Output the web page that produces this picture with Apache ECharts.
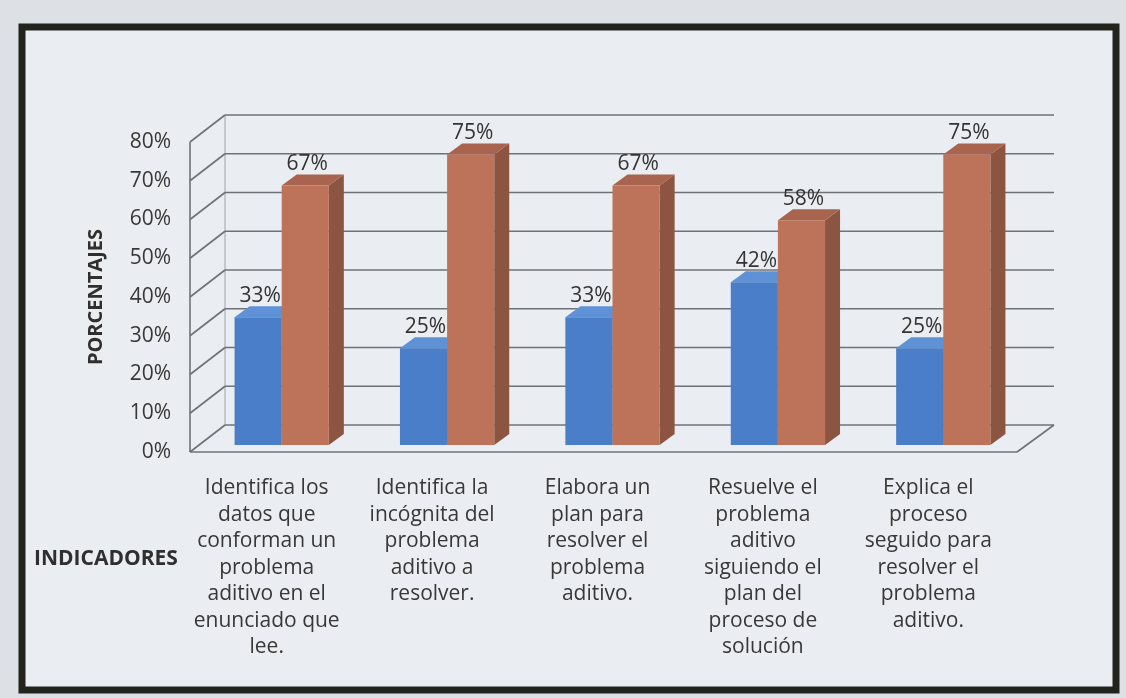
<!DOCTYPE html>
<html><head><meta charset="utf-8">
<script src="https://cdn.jsdelivr.net/npm/echarts@6/dist/echarts.min.js"></script>
<style>html,body{margin:0;padding:0;background:#dde1e5;}#c{width:1126px;height:698px;}</style>
</head><body><div id="c"></div>
<script>
const categories = [
  'Identifica los\ndatos que\nconforman un\nproblema\naditivo en el\nenunciado que\nlee.',
  'Identifica la\nincógnita del\nproblema\naditivo a\nresolver.',
  'Elabora un\nplan para\nresolver el\nproblema\naditivo.',
  'Resuelve el\nproblema\naditivo\nsiguiendo el\nplan del\nproceso de\nsolución',
  'Explica el\nproceso\nseguido para\nresolver el\nproblema\naditivo.'
];
const seriesA = [0.33, 0.25, 0.33, 0.42, 0.25];
const seriesB = [0.67, 0.75, 0.67, 0.58, 0.75];
const yTicks = [0, 0.1, 0.2, 0.3, 0.4, 0.5, 0.6, 0.7, 0.8];

const FONT = '"Open Sans", sans-serif';
const GRID_COLOR = '#6e7378';
const DX = 15, DY = 11;

const chart = echarts.init(document.getElementById('c'), null, {renderer:'canvas'});

function wallRender(params, api) {
  const cs = params.coordSys;
  const L = cs.x, R = cs.x + cs.width;
  const v = api.value(0);
  const y = api.coord([0, v])[1];
  const style = {stroke: GRID_COLOR, lineWidth: 1.6, fill: null};
  const children = [
    {type:'line', shape:{x1:L+26, y1:y-20, x2:R+28, y2:y-20}, style},
    {type:'line', shape:{x1:L-9, y1:y+7, x2:L+26, y2:y-20}, style}
  ];
  if (v === 0) {
    children.push({type:'line', shape:{x1:L-9, y1:y+7, x2:R-9, y2:y+7}, style});
    children.push({type:'line', shape:{x1:R-9, y1:y+7, x2:R+28, y2:y-20}, style});
  }
  if (v === yTicks[yTicks.length-1]) {
    const y0 = api.coord([0, 0])[1];
    children.push({type:'line', shape:{x1:L-9, y1:y+7, x2:L-9, y2:y0+7}, style});
    children.push({type:'line', shape:{x1:L+26, y1:y-20, x2:L+26, y2:y0-20}, style:{stroke:GRID_COLOR, lineWidth:1, fill:null, opacity:0.6}});
  }
  return {type:'group', children};
}

function barRender(side, colors) {
  return function(params, api) {
    const cat = api.value(0), v = api.value(1);
    const top = api.coord([cat, v]);
    const base = api.coord([cat, 0]);
    const band = api.size([1, 0])[0];
    const w = band * 0.285;
    const x0 = side === 0 ? top[0] - w : top[0];
    const x1 = x0 + w;
    const yT = top[1], yB = base[1];
    return {type:'group', children:[
      {type:'polygon', shape:{points:[[x1,yT],[x1+DX,yT-DY],[x1+DX,yB-DY],[x1,yB]]}, style:{fill:colors.side}},
      {type:'polygon', shape:{points:[[x0,yT],[x0+DX,yT-DY],[x1+DX,yT-DY],[x1,yT]]}, style:{fill:colors.top}},
      {type:'rect', shape:{x:x0, y:yT, width:w, height:yB-yT}, style:{fill:colors.front}},
      {type:'text', x:(x0+x1)/2 + 2, y:yT - 21, style:{text: Math.round(v*100)+'%', fill:'#333', font:'21px '+FONT, align:'center', verticalAlign:'middle'}}
    ]};
  };
}

const option = {
  animation:false,
  backgroundColor:'transparent',
  graphic:{elements:[
    {type:'rect', z:-10, shape:{x:22, y:27, width:1094, height:663}, style:{fill:'#eaedf1', stroke:'#23231e', lineWidth:7}},
    {type:'text', left:86, top:229, rotation:Math.PI/2, style:{text:'PORCENTAJES', font:'bold 20px '+FONT, fill:'#2f2f2f'}},
    {type:'text', left:34, top:549, style:{text:'INDICADORES', font:'bold 21px '+FONT, fill:'#2f2f2f'}}
  ]},
  grid:[
    {left:199, right:100, top:135, bottom:253},
    {left:190, right:109, top:142, bottom:246}
  ],
  xAxis:[
    {type:'category', gridIndex:0, data:categories, axisLine:{show:false}, axisTick:{show:false},
     axisLabel:{interval:0, margin:30, padding:[0,30,0,0], color:'#383838', fontFamily:FONT, fontSize:21, lineHeight:26.5}},
    {type:'category', gridIndex:1, data:categories, show:false}
  ],
  yAxis:[
    {type:'value', gridIndex:0, min:0, max:0.8, interval:0.1, show:false, splitLine:{show:false}},
    {type:'value', gridIndex:1, min:0, max:0.8, interval:0.1, splitLine:{show:false}, axisLine:{show:false}, axisTick:{show:false},
     axisLabel:{margin:19, color:'#383838', fontFamily:FONT, fontSize:21, formatter: v => Math.round(v*100)+'%'}}
  ],
  series:[
    {type:'custom', xAxisIndex:0, yAxisIndex:0, renderItem:wallRender, data:yTicks.map(v=>[v]), encode:{y:0}, z:1, silent:true},
    {type:'custom', name:'A', xAxisIndex:0, yAxisIndex:0, renderItem:barRender(0,{front:'#4b7ec8', top:'#5f91d6', side:'#3b67a8'}),
     data:seriesA.map((v,i)=>[i,v]), encode:{x:0,y:1}, z:3},
    {type:'custom', name:'B', xAxisIndex:0, yAxisIndex:0, renderItem:barRender(1,{front:'#bd735a', top:'#a8644e', side:'#8b5542'}),
     data:seriesB.map((v,i)=>[i,v]), encode:{x:0,y:1}, z:4}
  ]
};
chart.setOption(option);
</script>
</body></html>
